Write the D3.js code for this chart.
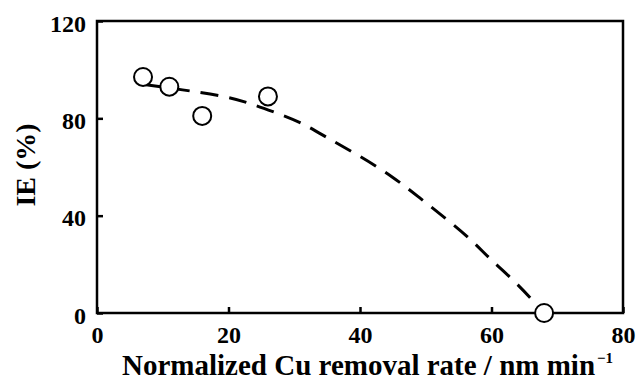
<!DOCTYPE html>
<html>
<head>
<meta charset="utf-8">
<script src="https://cdn.jsdelivr.net/npm/d3@7"></script>
<style>
  body { margin: 0; background: #fff; }
</style>
</head>
<body>
<svg id="chart" width="636" height="381"></svg>
<script>
// measured points
const rateX = [7, 11, 16, 26, 68];
const ieY = [97, 93, 81, 89, 0];

// dashed trend line
const trendX = [7, 13, 19, 23, 27, 31, 35, 40, 45, 49, 53, 57, 60, 64, 68];
const trendY = [94, 91.7, 89.4, 86.5, 82.5, 78.5, 72, 64.5, 56, 47.5, 39, 30, 21.5, 12, 0];

const xTicks = [0, 20, 40, 60, 80];
const yTicks = [0, 40, 80, 120];

const serif = "'Liberation Serif', 'Times New Roman', Times, serif";

const margin = { top: 21, right: 13, bottom: 68, left: 97 };
const width = 636 - margin.left - margin.right;
const height = 381 - margin.top - margin.bottom;

const svg = d3.select("#chart");
const g = svg.append("g").attr("transform", `translate(${margin.left},${margin.top})`);

const x = d3.scaleLinear().domain([0, 80]).range([0, width]);
const y = d3.scaleLinear().domain([0, 120]).range([height, 0]);

// frame
g.append("rect")
  .attr("width", width).attr("height", height)
  .attr("fill", "none").attr("stroke", "#000").attr("stroke-width", 2.5);

// x axis, ticks pointing inward
const xAxis = g.append("g")
  .attr("transform", `translate(0,${height})`)
  .call(d3.axisBottom(x).tickValues(xTicks).tickSizeInner(-6).tickSizeOuter(0).tickPadding(13));
xAxis.attr("font-family", serif).attr("font-size", 24).attr("font-weight", "bold");
xAxis.select(".domain").remove();
xAxis.selectAll("line").attr("stroke-width", 2.5);

// y axis
const yAxis = g.append("g")
  .call(d3.axisLeft(y).tickValues(yTicks).tickSizeInner(-6).tickSizeOuter(0).tickPadding(11));
yAxis.attr("font-family", serif).attr("font-size", 24).attr("font-weight", "bold");
yAxis.select(".domain").remove();
yAxis.selectAll("line").attr("stroke-width", 2.5);
yAxis.selectAll("text").attr("dy", "0.42em");

// trend
const trend = trendX.map((v, i) => [v, trendY[i]]);
g.append("path")
  .datum(trend)
  .attr("fill", "none")
  .attr("stroke", "#000")
  .attr("stroke-width", 3)
  .attr("stroke-dasharray", "18,11")
  .attr("d", d3.line().x(d => x(d[0])).y(d => y(d[1])).curve(d3.curveBasis));

// points
g.selectAll("circle.pt")
  .data(rateX.map((v, i) => [v, ieY[i]]))
  .enter().append("circle")
  .attr("class", "pt")
  .attr("cx", d => x(d[0]))
  .attr("cy", d => y(d[1]))
  .attr("r", 9)
  .attr("fill", "#fff")
  .attr("stroke", "#000")
  .attr("stroke-width", 2);

// axis titles
const xt = svg.append("text")
  .attr("x", 122)
  .attr("y", 375)
  .attr("font-family", serif)
  .attr("font-weight", "bold")
  .attr("font-size", 29)
  .text("Normalized Cu removal rate / nm min");
xt.append("tspan")
  .attr("dy", "-0.8em")
  .attr("dx", 2)
  .attr("font-size", 15)
  .text("\u22121");

svg.append("text")
  .attr("transform", `translate(35,${margin.top + height / 2 - 2}) rotate(-90)`)
  .attr("text-anchor", "middle")
  .attr("font-family", serif)
  .attr("font-weight", "bold")
  .attr("font-size", 28)
  .text("IE (%)");
</script>
</body>
</html>
